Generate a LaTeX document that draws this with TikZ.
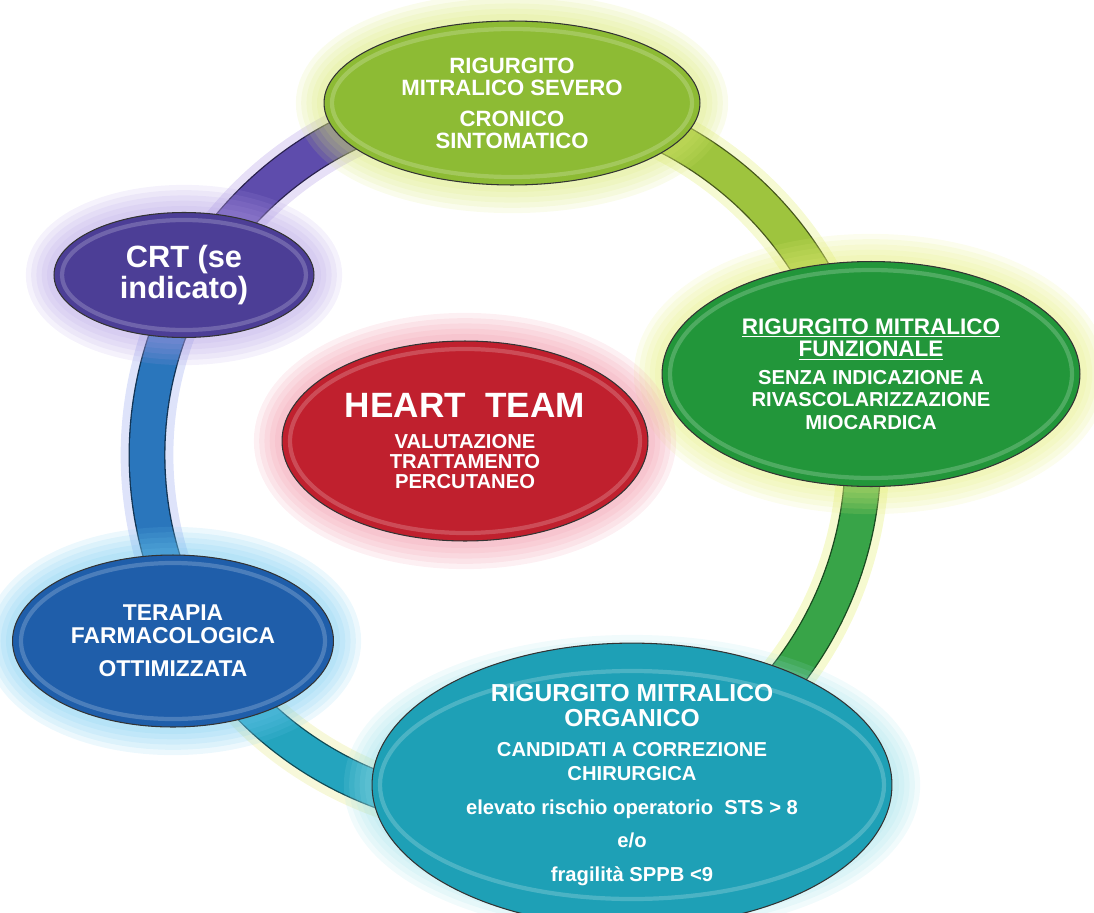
\documentclass[tikz,border=0pt]{standalone}
\usepackage{fontspec}
\setmainfont{Liberation Sans}
\usetikzlibrary{shapes.geometric, backgrounds}
\newcommand{\subtxt}{\fontsize{11.5}{12.5}\selectfont}
\newcommand{\titletxt}{\fontsize{20}{22}\selectfont}

\begin{document}
\begin{tikzpicture}[
  x=0.02cm, y=-0.02cm,
  blob/.style n args={4}{ellipse, inner sep=0pt, minimum width=#1, minimum height=#2,
    fill=#3, draw=black!80, line width=0.6pt, text=white, align=center,
    font=\bfseries\fontsize{#4}{#4}\selectfont},
  rim/.style={draw=white, opacity=0.2, line width=2.4pt},
  band/.style={line width=19.5pt},
  edge/.style={line width=21pt},
  halo/.style={line width=30pt, opacity=0.35}
]
\definecolor{topLime}{RGB}{141,187,52}
\definecolor{topGlow}{RGB}{215,232,110}
\definecolor{funGreen}{RGB}{34,150,58}
\definecolor{funGlow}{RGB}{228,238,120}
\definecolor{orgTeal}{RGB}{30,160,182}
\definecolor{orgGlow}{RGB}{150,222,232}
\definecolor{terBlue}{RGB}{31,94,170}
\definecolor{terGlow}{RGB}{110,200,240}
\definecolor{crtPurple}{RGB}{76,62,150}
\definecolor{crtGlow}{RGB}{175,155,228}
\definecolor{heartRed}{RGB}{192,32,46}
\definecolor{heartGlow}{RGB}{240,140,160}
\definecolor{ringPurple}{RGB}{94,76,172}
\definecolor{ringPurpleGlow}{RGB}{185,165,232}
\definecolor{ringLime}{RGB}{158,196,62}
\definecolor{ringLimeGlow}{RGB}{228,240,130}
\definecolor{ringGreen}{RGB}{56,164,72}
\definecolor{ringGreenGlow}{RGB}{230,240,120}
\definecolor{ringTeal}{RGB}{36,164,190}
\definecolor{ringTealGlow}{RGB}{232,236,150}
\definecolor{ringBlue}{RGB}{42,118,188}
\definecolor{ringBlueGlow}{RGB}{160,175,240}

\useasboundingbox (0,0) rectangle (1094,912);

\node[blob={7.52cm}{3.28cm}{topLime}{12.6}] (severo) at (512,103)
  {RIGURGITO\\MITRALICO SEVERO\\[5pt]CRONICO\\SINTOMATICO};
\node[blob={8.36cm}{4.5cm}{funGreen}{12.8}] (funzionale) at (871,374)
  {\underline{RIGURGITO MITRALICO}\\\underline{FUNZIONALE}\\[3pt]
   \subtxt SENZA INDICAZIONE A\\\subtxt RIVASCOLARIZZAZIONE\\\subtxt MIOCARDICA};
\node[blob={10.4cm}{4.9cm}{orgTeal}{14}] (organico) at (632,785)
  {RIGURGITO MITRALICO\\ORGANICO\\[3pt]
   \subtxt CANDIDATI A CORREZIONE\\\subtxt CHIRURGICA\\[5pt]
   \subtxt elevato rischio operatorio\ \ STS > 8\\[5pt]\subtxt e/o\\[5pt]\subtxt fragilità SPPB <9};
\node[blob={6.42cm}{3.44cm}{terBlue}{13}] (terapia) at (173,641)
  {TERAPIA\\FARMACOLOGICA\\[6pt]OTTIMIZZATA};
\node[blob={5.2cm}{2.5cm}{crtPurple}{17.5}] (crt) at (184,275)
  {CRT (se\\indicato)};
\node[blob={7.32cm}{4.0cm}{heartRed}{11.5}] (heart) at (465,441)
  {\titletxt HEART\ \ TEAM\\[6pt]VALUTAZIONE\\TRATTAMENTO\\PERCUTANEO};

% glossy inner rim
\foreach \n/\rx/\ry in {severo/180/74, funzionale/201/104, organico/252/114,
                        terapia/152/78, crt/122/55, heart/175/92} {
  \draw[rim] (\n.center) ellipse [x radius=\rx, y radius=\ry];
}

\begin{pgfonlayer}{background}
  % ring
  \coordinate (hub) at (505,455);
  \foreach \a/\b/\c/\g in {209/271/ringPurple/ringPurpleGlow, 269/350/ringLime/ringLimeGlow,
                           347/430/ringGreen/ringGreenGlow, 67/153/ringTeal/ringTealGlow,
                           150/211/ringBlue/ringBlueGlow} {
    \draw[halo, \g] (hub) ++(\a:358) arc[start angle=\a, end angle=\b, radius=358];
    \draw[edge, black!55!\c] (hub) ++(\a:358) arc[start angle=\a, end angle=\b, radius=358];
    \draw[band, \c] (hub) ++(\a:358) arc[start angle=\a, end angle=\b, radius=358];
  }
  % glow round the ellipses
  \foreach \n/\rx/\ry/\g in {severo/188/82/topGlow, funzionale/209/112/funGlow,
                             organico/260/122/orgGlow, terapia/160/86/terGlow,
                             crt/130/62/crtGlow, heart/183/100/heartGlow} {
    \foreach \w in {32,26,20,14,8}
      \draw[\g, line width=\w pt, opacity=0.13] (\n.center) ellipse [x radius=\rx, y radius=\ry];
  }
\end{pgfonlayer}
\end{tikzpicture}
\end{document}
